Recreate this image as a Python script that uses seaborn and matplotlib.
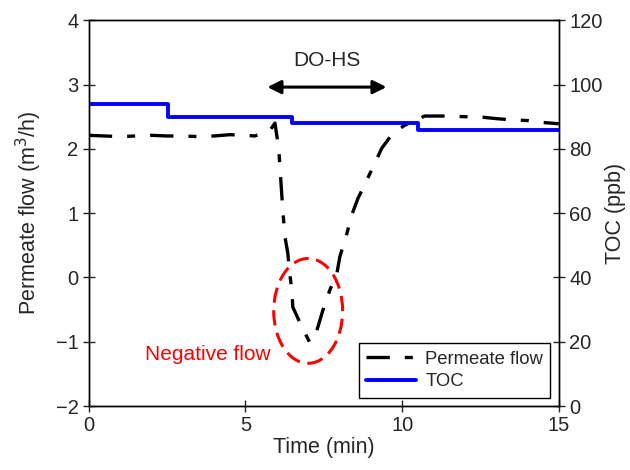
import numpy as np
import pandas as pd
import seaborn as sns
import matplotlib.pyplot as plt
from matplotlib.patches import Ellipse

# permeate flow (m3/h) vs time (min)
flow_t = [0.0, 0.5, 1.0, 1.5, 2.0, 2.5, 3.0, 3.5, 4.0, 4.5, 5.0, 5.3, 5.62, 5.8,
          5.94, 6.06, 6.19, 6.26, 6.35, 6.41, 6.48, 6.51, 6.8, 7.05, 7.28,
          7.47, 7.69, 7.92, 8.01, 8.24, 8.39, 8.59, 8.87, 9.13, 9.35, 9.7,
          10.09, 10.4, 10.72, 11.4, 12.0, 12.6, 13.0, 13.5, 14.0, 14.5, 15.0]
flow_v = [2.21, 2.2, 2.19, 2.2, 2.21, 2.2, 2.2, 2.19, 2.2, 2.22, 2.21, 2.2,
          2.26, 2.3, 2.4, 2.01, 1.05, 0.63, 0.38, 0.07, -0.2, -0.46, -0.77,
          -1.01, -0.82, -0.51, -0.2, 0.07, 0.32, 0.69, 0.97, 1.23, 1.51, 1.78,
          2.01, 2.24, 2.37, 2.44, 2.51, 2.51, 2.5, 2.49, 2.47, 2.45, 2.44,
          2.41, 2.39]

# TOC (ppb) step changes
toc_t = [0.0, 2.52, 6.48, 10.5, 15.0]
toc_v = [94, 90, 88, 86, 86]

flow = pd.DataFrame({"t": flow_t, "v": flow_v})
toc = pd.DataFrame({"t": toc_t, "v": toc_v})

sns.set_style("ticks")
plt.rcParams["font.family"] = ["Liberation Sans", "DejaVu Sans"]

fig, ax = plt.subplots(figsize=(6.3, 4.7), dpi=100)
ax2 = ax.twinx()

flow_dash = [7, 4.5, 2.4, 4.5]
sns.lineplot(data=flow, x="t", y="v", ax=ax, color="black", lw=2.4,
             estimator=None, sort=False, legend=False)
ax.lines[0].set_dashes(flow_dash)
sns.lineplot(data=toc, x="t", y="v", ax=ax2, color="#0000ff", lw=2.8,
             estimator=None, drawstyle="steps-post", legend=False)

ax.set_xlim(0, 15)
ax.set_ylim(-2, 4)
ax2.set_ylim(0, 120)
ax.set_xticks([0, 5, 10, 15])
ax.set_yticks(range(-2, 5))
ax2.set_yticks(range(0, 121, 20))
ax.set_xlabel("Time (min)", fontsize=15.5, labelpad=1)
ax.set_ylabel("Permeate flow (m$^3$/h)", fontsize=15.5, labelpad=8)
ax2.set_ylabel("TOC (ppb)", fontsize=15.5, labelpad=2)
for a in (ax, ax2):
    a.tick_params(direction="inout", length=8, width=1, labelsize=14.5)
    for s in a.spines.values():
        s.set_linewidth(1)
        s.set_color("black")

# annotations
ax.annotate("", xy=(5.7, 2.96), xytext=(9.5, 2.96),
            arrowprops=dict(arrowstyle="<|-|>", color="black", lw=2.2,
                            mutation_scale=20, shrinkA=0, shrinkB=0))
ax.text(7.6, 3.38, "DO-HS", ha="center", va="center", fontsize=15)
ax.add_patch(Ellipse((7.0, -0.52), 2.2, 1.63, fill=False, ec="red",
                     lw=2.2, ls=(0, (5, 2.5))))
ax.text(3.8, -1.2, "Negative flow", color="red", ha="center", va="center",
        fontsize=15)

handles = [plt.Line2D([], [], color="black", lw=2.4, dashes=flow_dash),
           plt.Line2D([], [], color="#0000ff", lw=2.8)]
leg = ax.legend(handles, ["Permeate flow", "TOC"], loc="lower right",
                fancybox=False, framealpha=1, edgecolor="black",
                fontsize=13.3, handlelength=2.7, borderaxespad=0.45,
                labelspacing=0.3, borderpad=0.4, handletextpad=0.5)
leg.get_frame().set_linewidth(1)

plt.subplots_adjust(left=0.141, right=0.887, top=0.957, bottom=0.136)
fig.savefig("out.png", dpi=100)
